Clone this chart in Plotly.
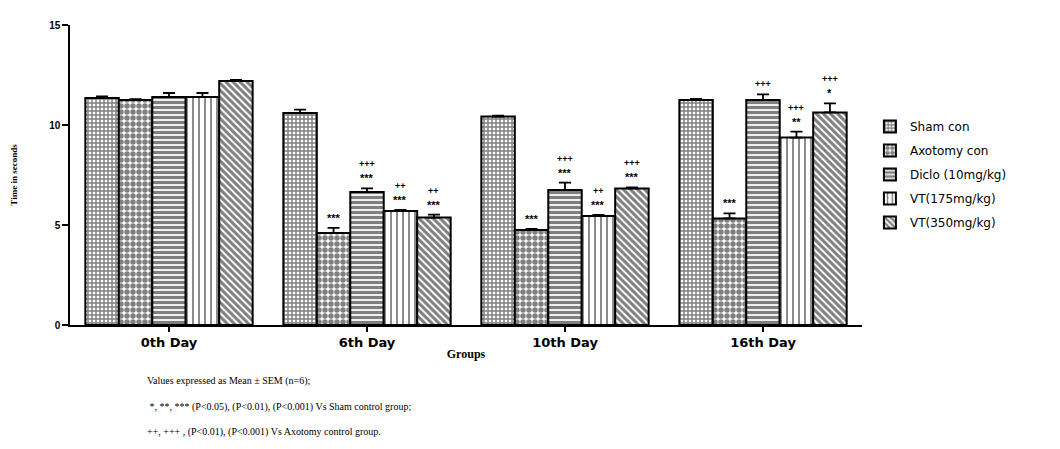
import plotly.graph_objects as go

# ---- data -------------------------------------------------------------
days = ["0th Day", "6th Day", "10th Day", "16th Day"]
groups = ["Sham con", "Axotomy con", "Diclo (10mg/kg)", "VT(175mg/kg)", "VT(350mg/kg)"]

sham_mean = [11.35, 10.60, 10.42, 11.25]
sham_sem = [0.08, 0.17, 0.05, 0.05]
axo_mean = [11.25, 4.60, 4.75, 5.33]
axo_sem = [0.04, 0.26, 0.05, 0.25]
diclo_mean = [11.40, 6.65, 6.75, 11.25]
diclo_sem = [0.20, 0.18, 0.37, 0.28]
vt175_mean = [11.40, 5.70, 5.45, 9.37]
vt175_sem = [0.20, 0.05, 0.05, 0.30]
vt350_mean = [12.20, 5.37, 6.83, 10.63]
vt350_sem = [0.05, 0.15, 0.05, 0.45]

# significance: * vs sham control, + vs axotomy control
sham_vs_sham = ["", "", "", ""]
sham_vs_axo = ["", "", "", ""]
axo_vs_sham = ["", "***", "***", "***"]
axo_vs_axo = ["", "", "", ""]
diclo_vs_sham = ["", "***", "***", ""]
diclo_vs_axo = ["", "+++", "+++", "+++"]
vt175_vs_sham = ["", "***", "***", "**"]
vt175_vs_axo = ["", "++", "++", "+++"]
vt350_vs_sham = ["", "***", "***", "*"]
vt350_vs_axo = ["", "++", "+++", "+++"]

y_ticks = [0, 5, 10, 15]

footnotes = [
    "Values expressed as Mean ± SEM (n=6);",
    " *, **, *** (P<0.05), (P<0.01), (P<0.001) Vs Sham control group;",
    "++, +++ , (P<0.01), (P<0.001) Vs Axotomy control group.",
]

# ---- styling ----------------------------------------------------------
means = [sham_mean, axo_mean, diclo_mean, vt175_mean, vt350_mean]
sems = [sham_sem, axo_sem, diclo_sem, vt175_sem, vt350_sem]
stars = [sham_vs_sham, axo_vs_sham, diclo_vs_sham, vt175_vs_sham, vt350_vs_sham]
pluses = [sham_vs_axo, axo_vs_axo, diclo_vs_axo, vt175_vs_axo, vt350_vs_axo]

patterns = [
    dict(shape="+", size=4, solidity=0.6),
    dict(shape=".", size=6, solidity=0.65),
    dict(shape="-", size=5, solidity=0.65),
    dict(shape="|", size=6, solidity=0.3),
    dict(shape="\\", size=5, solidity=0.6),
]

BARGAP = 0.155
n = len(groups)
bar_w = (1 - BARGAP) / n

fig = go.Figure()
for i, name in enumerate(groups):
    fig.add_trace(go.Bar(
        name=name,
        x=list(range(len(days))),
        y=means[i],
        marker=dict(
            color="white",
            line=dict(color="black", width=2),
            pattern=dict(fgcolor="black", bgcolor="white", fillmode="overlay", **patterns[i]),
        ),
        error_y=dict(
            type="data", symmetric=False, array=sems[i],
            arrayminus=[0] * len(days), color="black", thickness=1.8, width=6,
        ),
        legendgroup=name,
    ))

# significance labels above each bar's error cap
for i in range(n):
    offset = -(1 - BARGAP) / 2 + bar_w * (i + 0.5)
    for d in range(len(days)):
        top = means[i][d] + sems[i][d]
        shift = 10
        if stars[i][d]:
            fig.add_annotation(
                x=d + offset, y=top, xref="x", yref="y", text="<b>" + stars[i][d] + "</b>",
                showarrow=False, yanchor="middle", yshift=shift,
                font=dict(family="Liberation Sans", size=11, color="black"),
            )
            shift += 14
        if pluses[i][d]:
            fig.add_annotation(
                x=d + offset, y=top, xref="x", yref="y", text="<b>" + pluses[i][d] + "</b>",
                showarrow=False, yanchor="middle", yshift=shift,
                font=dict(family="Liberation Sans", size=9, color="black"),
            )

for k, line in enumerate(footnotes):
    fig.add_annotation(
        x=0.095, y=-0.187 - 0.085 * k, xref="paper", yref="paper",
        text=line, showarrow=False, xanchor="left", yanchor="middle",
        font=dict(family="Liberation Serif", size=10, color="black"),
    )

fig.update_layout(
    width=1060, height=449,
    margin=dict(l=70, r=198, t=25, b=124),
    paper_bgcolor="white", plot_bgcolor="white",
    barmode="group", bargap=BARGAP, bargroupgap=0,
    showlegend=True,
    legend=dict(
        x=1.01, y=0.71, xanchor="left", yanchor="top",
        font=dict(family="DejaVu Sans", size=12, color="black"),
        tracegroupgap=5, traceorder="grouped",
        bgcolor="rgba(0,0,0,0)",
    ),
    xaxis=dict(
        tickmode="array", tickvals=list(range(len(days))),
        ticktext=["<b>" + d + "</b>" for d in days],
        range=[-0.5, len(days) - 0.5],
        showline=True, linecolor="black", linewidth=1.5,
        ticks="outside", ticklen=5, tickcolor="black", tickwidth=1.5,
        showgrid=False, zeroline=False,
        tickfont=dict(family="DejaVu Sans", size=13, color="black"),
        title=dict(text="<b>Groups</b>", standoff=0,
                   font=dict(family="Liberation Serif", size=12, color="black")),
    ),
    yaxis=dict(
        range=[0, 15], tickvals=y_ticks,
        ticktext=["<b>%d</b>" % v for v in y_ticks],
        showline=True, linecolor="black", linewidth=1.5,
        ticks="outside", ticklen=6, tickcolor="black", tickwidth=1.5,
        showgrid=False, zeroline=False,
        tickfont=dict(family="Liberation Sans", size=10, color="black"),
        title=dict(text="<b>Time in seconds</b>", standoff=30,
                   font=dict(family="Liberation Serif", size=9, color="black")),
    ),
)

fig.write_html("out.html")
